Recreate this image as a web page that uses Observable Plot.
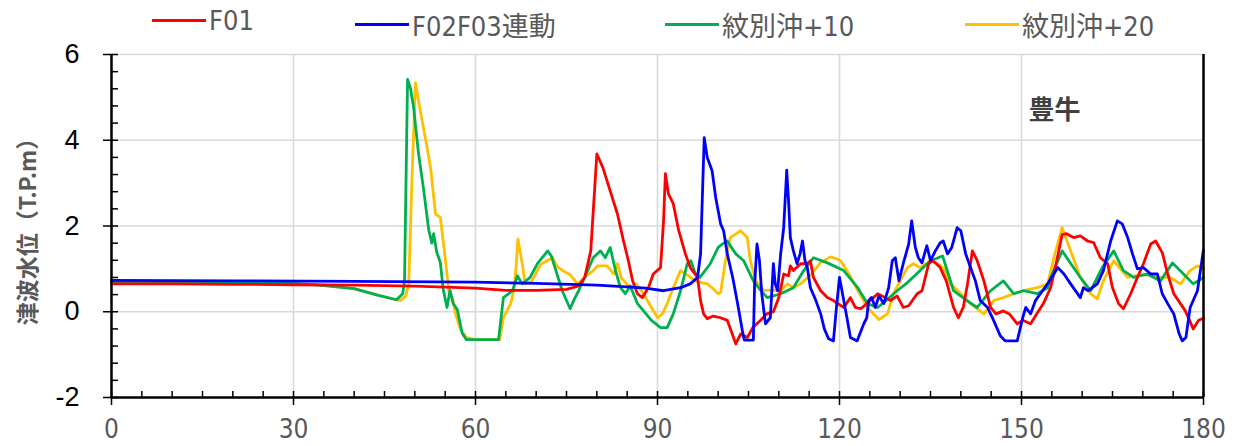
<!DOCTYPE html>
<html><head><meta charset="utf-8">
<script src="https://cdn.jsdelivr.net/npm/d3@7"></script>
<script src="https://cdn.jsdelivr.net/npm/@observablehq/plot@0.6"></script>
<style>
body{margin:0;background:#fff;width:1235px;height:446px;overflow:hidden;}
#legend{position:relative;height:34px;font-family:"Liberation Sans Narrow","DejaVu Sans Condensed","Noto Sans CJK JP",sans-serif;font-size:27px;color:#595959;}
.item{position:absolute;top:5px;display:flex;align-items:center;white-space:nowrap;}
.sw{width:54px;height:3px;margin-right:3px;}
#chart{height:412px;}
</style></head><body>
<div id="legend"></div><div id="chart"></div>
<script>
const seriesNames = ["F01", "F02F03連動", "紋別沖+10", "紋別沖+20"];
const seriesColors = ["#ff0000", "#0000ff", "#00b050", "#ffc000"];
const xTicks = [0, 30, 60, 90, 120, 150, 180];
const yTicks = [-2, 0, 2, 4, 6];
const placeLabel = "豊牛";
const yLabel = "津波水位（T.P.m）";

// [time (min), level (T.P.m)]
const f01 = [[0,0.65],[10,0.65],[20,0.64],[30,0.63],[40,0.62],[50,0.6],[60,0.55],[65,0.5],[70,0.5],[75,0.52],[77,0.6],[78,0.8],[79,1.42],[80,3.68],[81,3.36],[82.2,2.82],[83.4,2.28],[84.4,1.65],[85.2,1.19],[85.9,0.72],[86.7,0.42],[87.5,0.33],[88.5,0.56],[89.3,0.88],[90.5,1.03],[91,2.12],[91.3,3.22],[91.8,2.75],[92.6,2.52],[93.5,1.89],[94.6,1.35],[95.4,1.03],[96.6,0.8],[97.1,0.26],[97.6,-0.05],[98.2,-0.16],[99.2,-0.1],[100.4,-0.14],[101.5,-0.2],[102.4,-0.55],[102.9,-0.75],[103.7,-0.52],[104.8,-0.6],[105.7,-0.37],[107,-0.2],[108,-0.05],[109.1,0.0],[110,0.33],[110.8,0.88],[111.6,0.84],[111.9,1.07],[112.4,0.96],[113.6,1.12],[114.7,1.12],[115.2,1.19],[115.7,0.8],[116.9,0.49],[118,0.33],[119,0.26],[120.7,0.1],[121.8,0.33],[122.6,0.1],[123.5,0.07],[124.5,0.19],[126.3,0.42],[127,0.37],[128.4,0.26],[129.5,0.37],[130.5,0.1],[131.4,0.14],[132.8,0.42],[133.6,0.49],[134.7,1.12],[135.4,1.19],[136.6,1.03],[137.6,0.72],[138.8,0.1],[139.6,-0.14],[140.4,0.1],[141.1,0.65],[141.9,1.42],[142.7,1.19],[143.8,0.72],[144.9,0.1],[145.8,-0.05],[147,0.02],[148,-0.05],[149.3,-0.28],[150.2,-0.2],[151.5,-0.28],[152.5,-0.05],[153.6,0.19],[154.8,0.56],[155.7,1.12],[156.7,1.8],[157.4,1.82],[158.6,1.73],[159.7,1.77],[160.9,1.65],[161.9,1.61],[163,1.26],[164.2,1.12],[165,0.56],[166,0.19],[166.8,0.07],[168,0.42],[169.1,0.8],[170.1,1.12],[171.3,1.58],[172.1,1.65],[173.2,1.38],[174.1,0.88],[175.1,0.42],[176.2,0.19],[177,0.02],[177.7,-0.2],[178.3,-0.4],[179.2,-0.2],[180,-0.15]];

const f02f03 = [[0,0.73],[20,0.72],[40,0.71],[60,0.69],[70,0.66],[80,0.62],[85,0.58],[88,0.55],[91,0.49],[93.8,0.56],[95.4,0.65],[96.6,0.8],[97.1,1.35],[97.7,4.06],[98.2,3.6],[99,3.29],[99.6,2.66],[100.4,2.05],[100.9,1.89],[101.5,1.35],[102.4,0.8],[103.2,0.19],[104,-0.45],[104.3,-0.66],[105.8,-0.66],[106,0.6],[106.4,1.58],[106.8,1.2],[107.2,0.4],[107.8,-0.28],[108.6,-0.14],[109.1,1.12],[109.4,0.65],[109.8,0.49],[110.3,1.35],[110.8,1.96],[111.3,3.3],[111.6,2.59],[111.9,1.73],[112.4,1.42],[113,1.12],[113.5,1.35],[113.9,1.65],[114.3,1.2],[114.7,1.03],[115.2,0.56],[116,0.3],[116.9,-0.05],[117.5,-0.4],[118.2,-0.63],[119,-0.68],[119.5,0.1],[120,0.8],[120.5,0.42],[121.3,-0.2],[121.8,-0.6],[122.9,-0.68],[124,-0.28],[124.5,-0.14],[124.8,0.26],[125.3,0.33],[125.9,0.1],[126.5,0.37],[127.3,0.19],[128.1,0.56],[128.7,1.19],[129.2,1.26],[129.8,0.72],[130.5,1.12],[131.4,1.58],[131.9,2.12],[132.5,1.5],[133,1.26],[133.6,1.14],[134.4,1.54],[135,1.19],[135.8,1.42],[136.6,1.61],[137.1,1.65],[137.8,1.35],[138.5,1.5],[139.4,1.96],[140,1.89],[140.8,1.35],[141.6,1.03],[142.4,0.72],[143.2,0.26],[144.4,0.1],[145.4,-0.2],[146.5,-0.56],[147.3,-0.68],[149.3,-0.68],[150.2,-0.14],[150.7,0.1],[151.5,-0.05],[152.3,0.26],[153.1,0.42],[154.3,0.65],[156,1.03],[157,0.88],[158.1,0.65],[159.7,0.33],[160.2,0.56],[161,0.49],[162.5,0.65],[163.5,0.96],[164.7,1.65],[165.8,2.12],[166.6,2.05],[167.5,1.73],[168.3,1.35],[169.1,1.0],[170.1,1.03],[171.3,0.88],[172.4,0.88],[173.2,0.42],[174.1,0.19],[175.1,-0.05],[176,-0.52],[176.5,-0.68],[177.1,-0.6],[177.8,0.1],[179,0.49],[180,1.45]];

const monbetsu10 = [[0,0.7],[15,0.7],[25,0.69],[30,0.66],[35,0.61],[40,0.54],[44,0.38],[47,0.28],[48,0.42],[48.3,0.72],[48.8,5.42],[49.3,5.2],[49.8,4.76],[50.6,3.7],[51.4,2.9],[52.3,1.9],[52.8,1.6],[53.1,1.82],[53.6,1.4],[54.2,1.15],[54.7,0.5],[55.3,0.1],[55.8,0.5],[56.3,0.2],[57,0.05],[57.8,-0.5],[58.5,-0.65],[63.8,-0.65],[64.6,0.33],[66.1,0.49],[66.9,0.84],[67.7,0.65],[69,0.8],[70.2,1.12],[71.9,1.42],[72.5,1.3],[74.3,0.49],[75.6,0.07],[76.3,0.3],[77,0.49],[78,0.8],[79.4,1.26],[80.6,1.42],[81.4,1.26],[82.2,1.5],[83.1,0.95],[83.9,0.56],[84.7,0.42],[85.5,0.6],[86.7,0.19],[87.7,0.02],[89,-0.2],[90.5,-0.37],[91.6,-0.37],[92.6,-0.05],[93.8,0.49],[94.9,1.12],[95.5,1.19],[96.2,0.9],[97,0.8],[98.7,1.12],[100,1.5],[100.9,1.6],[101.5,1.65],[102.9,1.35],[104.2,1.19],[105.8,0.72],[107,0.5],[108.1,0.33],[110.3,0.42],[112.4,0.56],[114.1,0.96],[115.7,1.26],[118,1.14],[120.7,0.96],[123,0.56],[124.6,0.19],[126.3,0.1],[128,0.3],[129.5,0.49],[131.2,0.68],[133.3,0.96],[135,1.19],[137,1.3],[138.8,0.49],[141,0.26],[142.7,0.1],[144.9,0.49],[147,0.72],[148.7,0.42],[150.3,0.49],[152.6,0.42],[154.3,0.56],[154.8,0.8],[156.7,1.42],[157.8,1.19],[159.7,0.8],[161.4,0.49],[163.3,1.03],[165.2,1.42],[166.8,0.96],[168.5,0.8],[170.7,0.88],[172.9,0.72],[174.9,1.14],[176.7,0.88],[178.3,0.65],[180,0.8]];

const monbetsu20 = [[0,0.71],[15,0.71],[25,0.7],[30,0.67],[35,0.62],[40,0.54],[44,0.38],[46.3,0.3],[47.6,0.26],[48.5,0.37],[49,0.65],[49.5,3.0],[50.1,5.34],[50.9,4.69],[51.8,4.0],[52.6,3.36],[53.4,2.28],[54.2,2.2],[55,1.26],[55.6,0.49],[56.2,0.33],[56.7,-0.05],[57.5,-0.4],[58.5,-0.6],[60,-0.65],[64,-0.65],[64.6,-0.14],[65.8,0.19],[66.3,0.49],[66.6,0.88],[67,1.7],[67.7,1.12],[68.2,0.65],[69.2,0.7],[69.9,0.88],[70.7,1.1],[72.7,1.26],[73.5,1.05],[74.5,0.95],[75.7,0.85],[76.8,0.65],[78,0.8],[79.4,0.96],[80.1,1.07],[81.7,1.07],[82.8,0.88],[83.4,1.12],[84,0.8],[85.5,0.56],[86.5,0.65],[87.7,0.42],[89,0.1],[90,-0.14],[90.8,-0.05],[91.6,0.19],[92.6,0.56],[93.8,0.96],[95,0.85],[96.5,0.7],[98.2,0.65],[99,0.56],[100,0.42],[100.4,0.45],[101.2,1.19],[102,1.73],[103.7,1.89],[104.8,1.73],[105.3,1.19],[106.2,0.72],[107.5,0.5],[109,0.5],[110.3,0.49],[111.4,0.65],[112.4,0.56],[113.6,0.65],[115.2,0.85],[116.9,1.15],[118.5,1.28],[119.6,1.23],[120.2,1.19],[121.5,0.9],[123,0.5],[124.6,0.1],[126.5,-0.18],[127.9,-0.05],[128.9,0.42],[130,0.72],[131.2,1.03],[132.2,1.12],[133.3,1.03],[135,1.19],[136,1.14],[137.2,1.0],[138.3,0.65],[140,0.42],[141.6,0.19],[143.8,-0.05],[145.4,0.26],[147,0.33],[148.7,0.42],[150.3,0.49],[152.6,0.56],[154.3,0.65],[155.5,1.35],[156.7,1.96],[158.1,1.42],[159.7,0.8],[161.4,0.42],[162.5,0.3],[163.5,0.72],[165.2,1.19],[167.5,0.8],[170.1,0.88],[172.4,0.8],[174.5,0.8],[176.2,0.65],[177.8,0.96],[179,1.07],[180,1.03]];

const seriesData = [f01, f02f03, monbetsu10, monbetsu20];

// legend
const legendLeft = [152, 355, 665, 965];
const legend = document.getElementById("legend");
seriesNames.forEach((n, i) => {
  const it = document.createElement("div");
  it.className = "item";
  it.style.left = legendLeft[i] + "px";
  it.innerHTML = `<span class="sw" style="background:${seriesColors[i]}"></span><span>${n}</span>`;
  legend.appendChild(it);
});

const rows = [];
seriesData.forEach((arr, i) => arr.forEach(([t, v]) => rows.push({series: seriesNames[i], t, v})));

const W = 1235, H = 412, ML = 111, MR = 32, MT = 20, MB = 49;
const plotW = W - ML - MR, plotH = H - MT - MB;
const xMinor = d3.range(0, 181, 5);
const yMinor = d3.range(-2, 6.001, 0.4).map(d => +d.toFixed(1));
const drawOrder = [3, 2, 0, 1];

const chart = Plot.plot({
  width: W, height: H, marginLeft: ML, marginRight: MR, marginTop: MT, marginBottom: MB,
  x: {domain: [0, 180]},
  y: {domain: [-2, 6]},
  style: {background: "white"},
  marks: [
    Plot.gridX([30, 60, 90, 120, 150], {stroke: "#d9d9d9", strokeOpacity: 1, strokeWidth: 1.6}),
    Plot.gridY([0, 2, 4, 6], {stroke: "#d9d9d9", strokeOpacity: 1, strokeWidth: 1.6}),
    ...drawOrder.map(i => Plot.line(rows.filter(r => r.series === seriesNames[i]), {
      x: "t", y: "v", stroke: seriesColors[i], strokeWidth: 2.8, strokeLinejoin: "round"
    })),
    Plot.tickX(xMinor, {x: d => d, insetTop: plotH - 6, stroke: "black", strokeWidth: 1.5}),
    Plot.tickY(yMinor, {y: d => d, insetRight: plotW - 7, stroke: "black", strokeWidth: 1.5}),
    Plot.axisX({ticks: xTicks, tickSize: 8, tickPadding: 14, label: null, stroke: "black", strokeWidth: 1.5,
      fill: "#595959", fontSize: 26, fontFamily: "Liberation Sans Narrow, DejaVu Sans Condensed, sans-serif"}),
    Plot.axisY({ticks: yTicks, tickSize: 8, tickPadding: 24, label: null, stroke: "black", strokeWidth: 1.5,
      fill: "black", fontSize: 27, fontFamily: "Liberation Sans, Arial, sans-serif", tickFormat: d => d < 0 ? "-" + Math.abs(d) : String(d)}),
    Plot.ruleX([0], {stroke: "black", strokeWidth: 2.5}),
    Plot.ruleX([180], {stroke: "black", strokeWidth: 2.5}),
    Plot.ruleY([-2], {stroke: "black", strokeWidth: 2.5}),
    Plot.text([placeLabel], {frameAnchor: "top-right", dx: -123, dy: 56, textAnchor: "end", lineAnchor: "middle",
      fontSize: 26, fontWeight: "bold", fill: "#404040", fontFamily: "Noto Sans CJK JP, sans-serif"}),
    Plot.text([yLabel], {frameAnchor: "left", dx: -83, rotate: -90, textAnchor: "middle", lineAnchor: "middle",
      fontSize: 23, fontWeight: "bold", fill: "#595959", fontFamily: "Noto Sans CJK JP, sans-serif"})
  ]
});
document.getElementById("chart").appendChild(chart);
</script>
</body></html>
